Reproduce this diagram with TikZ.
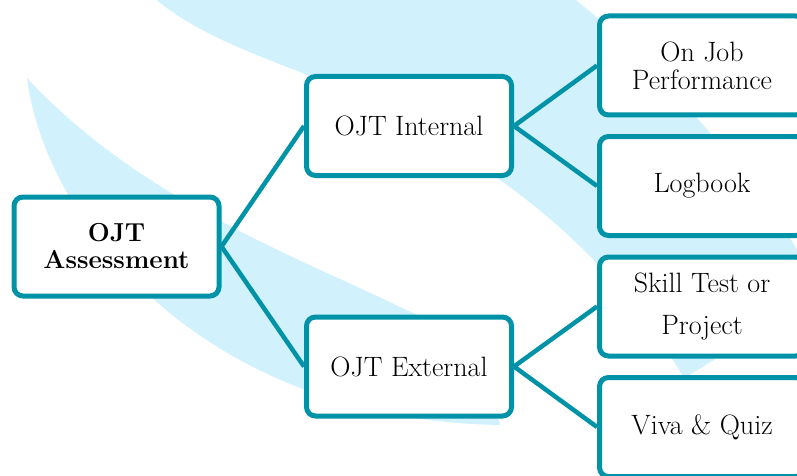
\documentclass[tikz,border=0pt]{standalone}
\usepackage{fontspec}
\definecolor{tealline}{RGB}{0,146,166}
\definecolor{swoosh}{RGB}{209,241,253}
\begin{document}
\begin{tikzpicture}[x=1pt,y=-1pt,
  box/.style={draw=tealline, line width=5pt, rounded corners=9pt, fill=white,
    minimum width=205pt, minimum height=99pt, inner sep=0pt, align=center,
    font=\fontsize{28}{28}\selectfont, text=black},
  link/.style={draw=tealline, line width=4.5pt}]
\useasboundingbox (0,0) rectangle (797,476);
\clip (0,0) rectangle (797,476);
% background swooshes
\fill[swoosh] (140,-15) .. controls (180,25) and (230,45) .. (300,72)
  .. controls (450,135) and (590,220) .. (684,378)
  .. controls (740,345) and (815,300) .. (800,255)
  .. controls (770,200) and (660,60) .. (550,-20) -- cycle;
\fill[swoosh] (27,78) .. controls (45,220) and (200,420) .. (500,425)
  .. controls (480,340) and (440,325) .. (400,307)
  .. controls (300,258) and (140,200) .. (27,78) -- cycle;
% boxes
\node[box, font=\fontsize{26}{27}\selectfont\bfseries] (root) at (116.5,246.5) {OJT\\Assessment};
\node[box] (int) at (409,126) {OJT Internal};
\node[box] (ext) at (409,366.5) {OJT External};
\node[box] (ojp) at (702,65.5) {On Job\\Performance};
\node[box] (log) at (702,186) {Logbook};
\node[box] (skill) at (702,306.5) {Skill Test or\\[14pt]Project};
\node[box] (viva) at (702,427) {Viva \& Quiz};
% connectors
\draw[link] (root.east) -- (int.west);
\draw[link] (root.east) -- (ext.west);
\draw[link] (int.east) -- (ojp.west);
\draw[link] (int.east) -- (log.west);
\draw[link] (ext.east) -- (skill.west);
\draw[link] (ext.east) -- (viva.west);
\end{tikzpicture}
\end{document}
